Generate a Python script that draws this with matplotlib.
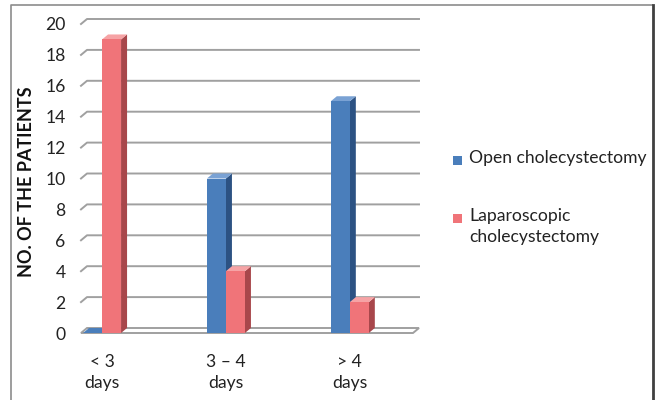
import matplotlib
matplotlib.use("Agg")
import matplotlib.pyplot as plt
from matplotlib.patches import Polygon, Rectangle
from matplotlib.lines import Line2D

plt.rcParams['font.family'] = ['Lato', 'DejaVu Sans']

categories = ["< 3\ndays", "3 – 4\ndays", "> 4\ndays"]
series_names = ["Open cholecystectomy", "Laparoscopic\ncholecystectomy"]
open_vals = [0, 10, 15]
lap_vals = [19, 4, 2]
y_ticks = list(range(0, 21, 2))

W, H = 656, 400
fig = plt.figure(figsize=(W / 100, H / 100), dpi=100)
FS = 12.6

# axes placement in pixels (front plane)
ax_l, ax_r = 81, 413
ax_b, ax_t = 400 - 333, 400 - 24
ax = fig.add_axes([ax_l / W, ax_b / H, (ax_r - ax_l) / W, (ax_t - ax_b) / H])
xl, xr = -0.17, 2.51
ax.set_xlim(xl, xr)
ax.set_ylim(0, 20)
for s in ax.spines.values():
    s.set_visible(False)

px_x = (ax_r - ax_l) / (xr - xl)
px_y = (ax_t - ax_b) / 20.0
ddx = 6 / px_x
ddy = 5 / px_y

grid_col = "#A0A0A0"
# floor
ax.add_patch(Polygon([(xl, 0), (xr, 0), (xr + ddx, ddy), (xl + ddx, ddy)],
                     closed=True, facecolor="white", edgecolor=grid_col, lw=1.4,
                     zorder=1, clip_on=False))
# gridlines on back wall with diagonal at left
for yv in y_ticks[1:]:
    ax.add_line(Line2D([xl, xl + ddx, xr + ddx], [yv, yv + ddy, yv + ddy],
                       color=grid_col, lw=1.4, zorder=1, clip_on=False))

bw = 19 / px_x
colors = [("#4A7EBB", "#2C5283", "#7AA2D4"), ("#F07479", "#A8474B", "#F6A3A5")]


def bar3d(x0, h, cols):
    front, side, top = cols
    x1 = x0 + bw
    ax.add_patch(Polygon([(x1, 0), (x1 + ddx, ddy), (x1 + ddx, h + ddy), (x1, h)],
                         closed=True, facecolor=side, edgecolor="none", zorder=3, clip_on=False))
    ax.add_patch(Polygon([(x0, h), (x1, h), (x1 + ddx, h + ddy), (x0 + ddx, h + ddy)],
                         closed=True, facecolor=top if h > 0 else front, edgecolor="none",
                         zorder=3, clip_on=False))
    ax.add_patch(Rectangle((x0, 0), bw, h, facecolor=front, edgecolor="none",
                           zorder=3, clip_on=False))


for i in range(len(categories)):
    bar3d(i - bw, open_vals[i], colors[0])
    bar3d(i, lap_vals[i], colors[1])

ax.set_yticks(y_ticks)
ax.set_yticklabels([str(v) for v in y_ticks], fontsize=FS, color="#222222")
ax.set_xticks(range(len(categories)))
ax.set_xticklabels(categories, fontsize=FS, color="#222222", linespacing=1.4)
ax.tick_params(axis='y', length=0, pad=11)
ax.tick_params(axis='x', length=0, pad=15)

fig.text(27 / W, (400 - 182) / H, "NO. OF THE PATIENTS", rotation=90,
         fontsize=13, fontweight='bold', ha='center', va='center', color="#111111")

# legend (manual)
leg_y = [160, 218]
for (c, name, yy) in zip([colors[0][0], colors[1][0]], series_names, leg_y):
    fig.add_artist(Rectangle((453 / W, (400 - yy - 4.5) / H), 9 / W, 9 / H,
                             transform=fig.transFigure, facecolor=c, edgecolor='none'))
    fig.text(469 / W, (400 - yy + 10) / H, name, fontsize=FS, ha='left', va='top',
             color="#222222", linespacing=1.35)

# outer frame
fig.add_artist(Line2D([11 / W, 11 / W, 652 / W], [0, (400 - 5) / H, (400 - 5) / H],
                      transform=fig.transFigure, color="#8C8C8C", lw=1.2))
fig.add_artist(Line2D([653 / W, 653 / W], [0, (400 - 5) / H],
                      transform=fig.transFigure, color="#404040", lw=2))

fig.savefig("out.png", dpi=100)
